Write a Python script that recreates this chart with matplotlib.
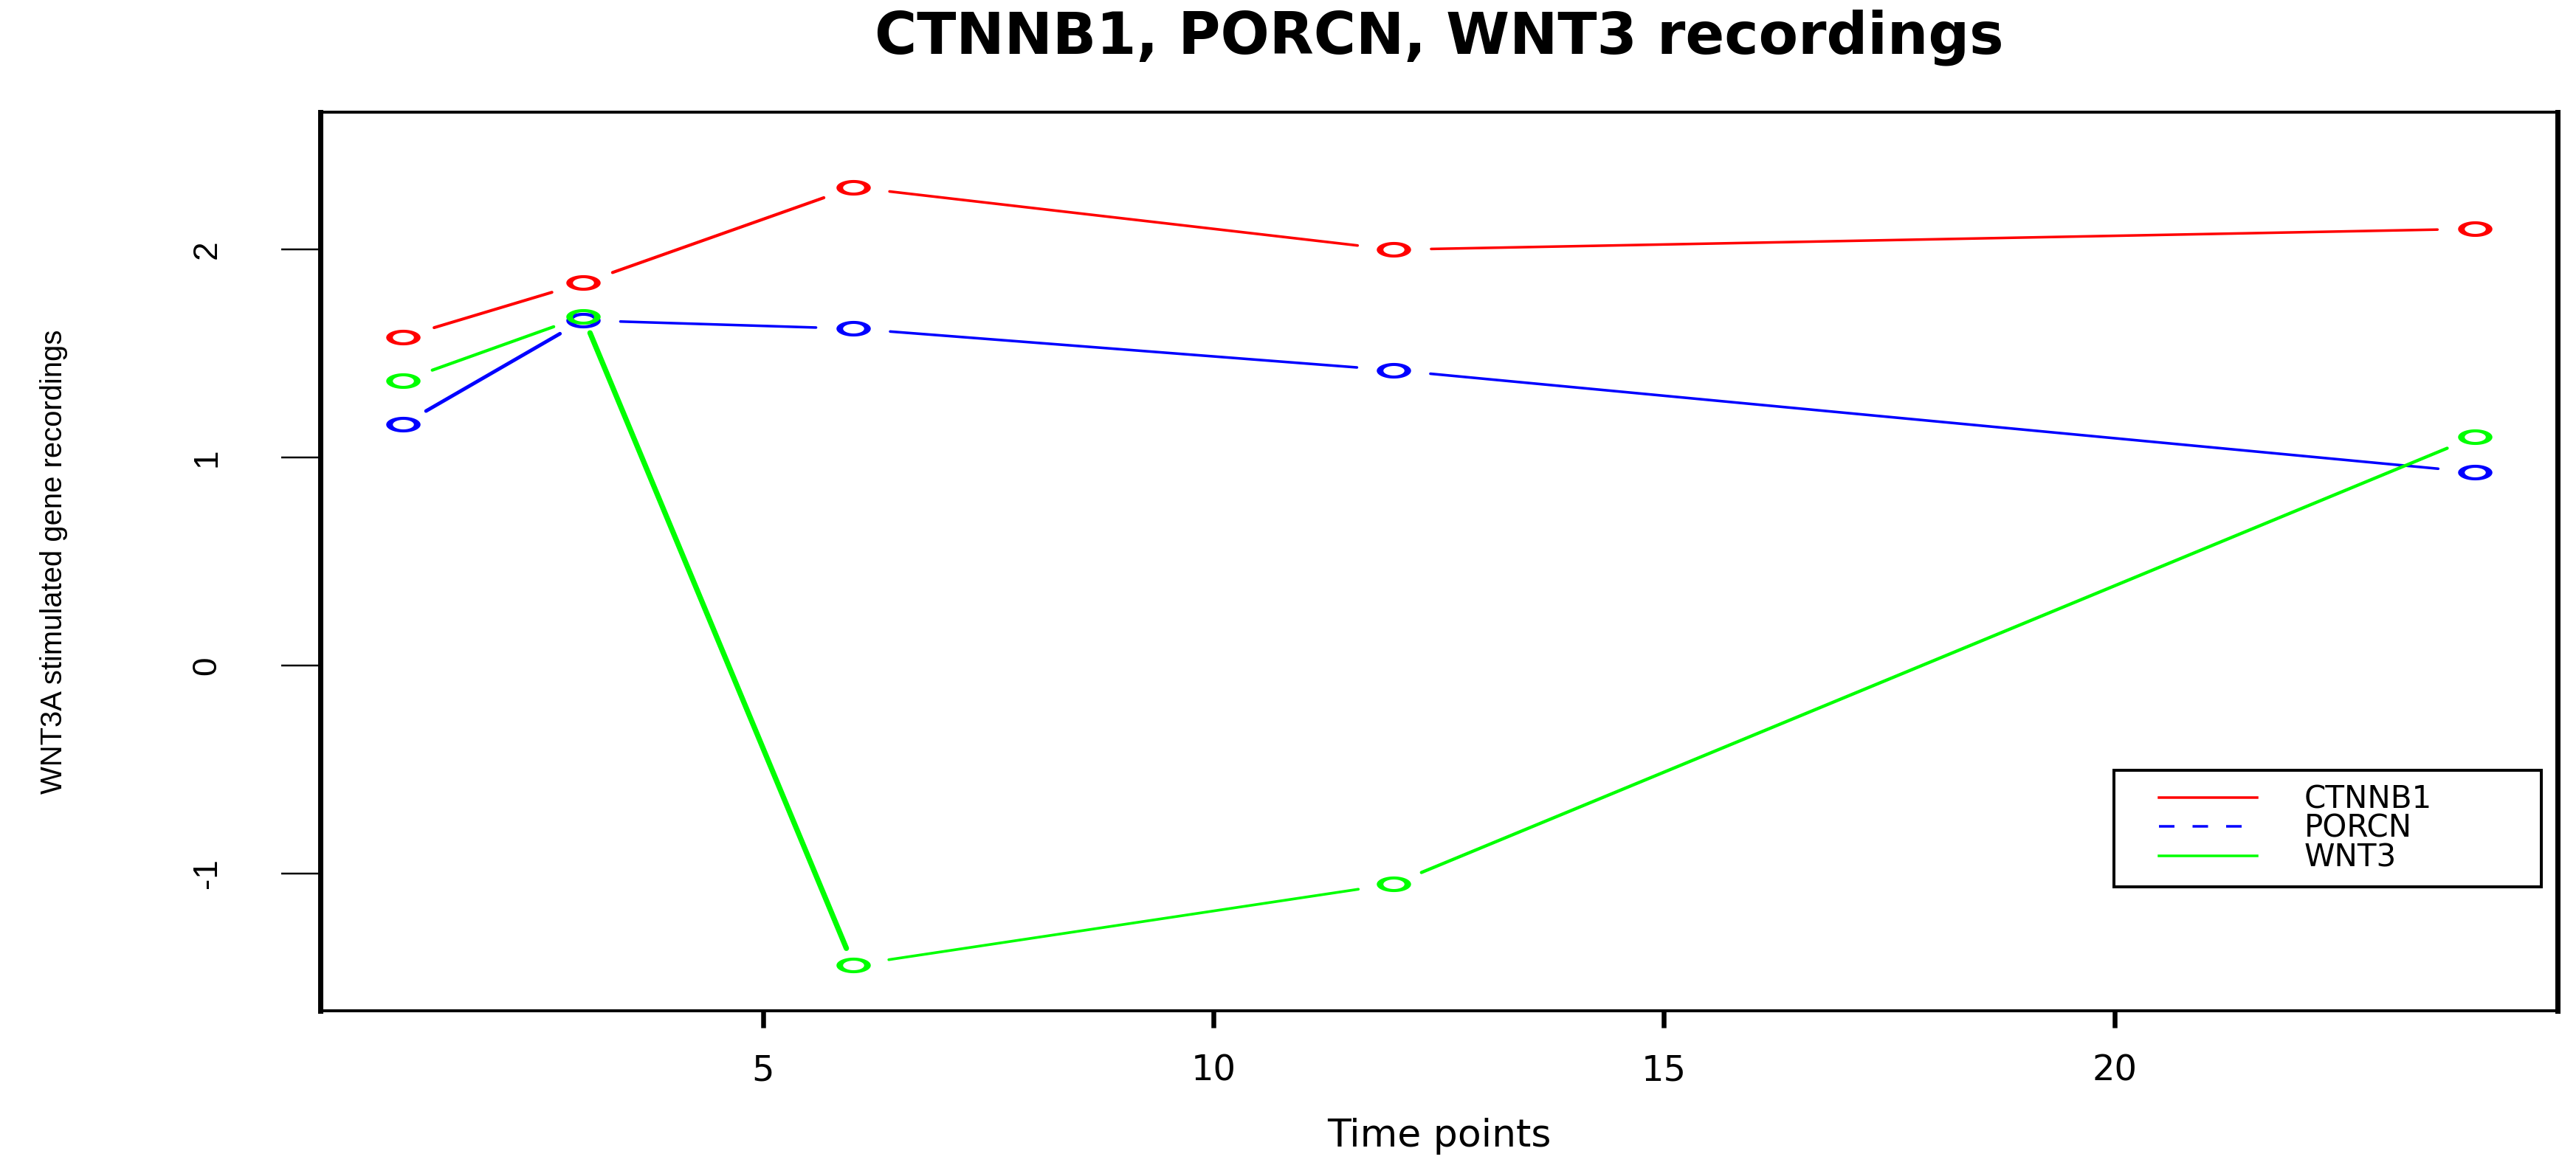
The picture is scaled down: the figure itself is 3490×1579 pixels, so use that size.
import numpy as np
import matplotlib
matplotlib.use("Agg")
import matplotlib.pyplot as plt
from matplotlib.path import Path
from matplotlib.lines import Line2D
from matplotlib.legend_handler import HandlerLine2D

# values
time_points = [1, 3, 6, 12, 24]
ctnnb1 = [1.58, 1.84, 2.30, 2.00, 2.10]
porcn = [1.16, 1.66, 1.62, 1.42, 0.93]
wnt3 = [1.37, 1.68, -1.44, -1.05, 1.10]
series_names = ["CTNNB1", "PORCN", "WNT3"]
series_colors = ["#ff0000", "#0000ff", "#00ff00"]
legend_styles = ["-", (0, (6, 7)), "-"]
x_ticks = [5, 10, 15, 20]
y_ticks = [-1, 0, 1, 2]

DPI = 100
PX = 72 / DPI      # points per pixel
STRETCH = 2.2      # the original R plot was stretched sideways
GAP = 23           # gap (px) between line ends and the circles, like type="b"
LW = 3.5           # line width in px (for a flat line)

plt.rcParams['axes.unicode_minus'] = False
plt.rcParams['font.family'] = ['DejaVu Sans']

fig = plt.figure(figsize=(34.91, 15.79), dpi=DPI)
ax = fig.add_axes([0.1242, 0.1324, 0.8684, 0.7711])
# R style limits: range extended by 4%
ax.set_xlim(1 - 0.04 * 23, 24 + 0.04 * 23)
ax.set_ylim(-1.5 - 0.16, 2.5 + 0.16)


def gapped_segments(xs, ys):
    # shorten every segment at both ends (screen space) and work out how
    # thick it looks once the picture is stretched sideways
    pts = ax.transData.transform(np.column_stack([xs, ys]))
    segs = []
    for p, q in zip(pts[:-1], pts[1:]):
        d = q - p
        n = np.hypot(d[0] / STRETCH, d[1])
        if n <= 2 * GAP:
            continue
        ux, uy = d[0] / STRETCH / n, d[1] / n
        width = LW / np.hypot(uy / STRETCH, ux)
        ends = ax.transData.inverted().transform([p + d * GAP / n, q - d * GAP / n])
        segs.append((ends[:, 0], ends[:, 1], width))
    return segs


# a stretched ring: filled annulus, thicker at the sides like the original
theta = np.linspace(0, 2 * np.pi, 73)
outer = np.column_stack([STRETCH * 10.6 * np.cos(theta), 10.6 * np.sin(theta)])
inner = np.column_stack([STRETCH * 6.5 * np.cos(theta), 6.5 * np.sin(theta)])[::-1]
codes = [Path.MOVETO] + [Path.LINETO] * 71 + [Path.CLOSEPOLY]
ring = Path(np.vstack([outer, inner]), codes + codes)

for vals, color in zip([ctnnb1, porcn, wnt3], series_colors):
    for sx, sy, w in gapped_segments(time_points, vals):
        ax.plot(sx, sy, color=color, lw=w * PX, solid_capstyle='round')
    ax.plot(time_points, vals, ls='none', marker=ring, ms=46.5 * PX,
            mew=0, mfc=color, mec='none')

ax.set_xticks(x_ticks)
ax.set_yticks(y_ticks)
for s in ['left', 'right']:
    ax.spines[s].set_linewidth(7 * PX)
for s in ['top', 'bottom']:
    ax.spines[s].set_linewidth(4 * PX)
ax.tick_params(axis='x', direction='out', length=23 * PX, width=6.5 * PX,
               pad=35 * PX, labelsize=48 * PX)
ax.tick_params(axis='y', direction='out', length=53 * PX, width=2.5 * PX,
               pad=78 * PX, labelsize=46 * PX, labelrotation=90)
for lab in ax.get_yticklabels():
    lab.set_fontfamily('Liberation Sans')
    lab.set_va('center')

ax.set_xlabel("Time points", fontsize=52 * PX)
ax.xaxis.set_label_coords(0.5, -0.119)
ax.set_ylabel("WNT3A stimulated gene recordings", fontsize=40 * PX,
              family='Liberation Sans', va='center')
ax.yaxis.set_label_coords(-0.119, 0.5)
ax.set_title("CTNNB1, PORCN, WNT3 recordings", fontsize=78 * PX,
             fontweight='bold', pad=80 * PX)


class IndentedLine(HandlerLine2D):
    def get_xdata(self, legend, xdescent, ydescent, width, height, fontsize):
        x0 = -xdescent + 42.7 * PX
        xd = np.array([x0, -xdescent + width])
        return xd, xd


f = 42
handles = [Line2D([], [], color=c, lw=LW * PX, ls=ls)
           for c, ls in zip(series_colors, legend_styles)]
leg = ax.legend(handles, series_names, loc='upper left',
                bbox_to_anchor=(0.8017, 0.1429, 0.191, 0.1248), mode='expand',
                borderaxespad=0, fancybox=False, edgecolor='black',
                framealpha=1, fontsize=f * PX, borderpad=0.435,
                labelspacing=-0.057, handlelength=4.18,
                handletextpad=1.52,
                handler_map={Line2D: IndentedLine()})
leg.get_frame().set_linewidth(4 * PX)

fig.savefig("out.png", dpi=DPI)
